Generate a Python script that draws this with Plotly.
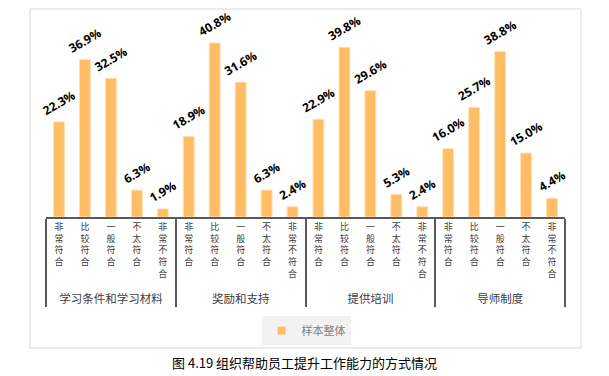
import plotly.graph_objects as go

groups = ["学习条件和学习材料", "奖励和支持", "提供培训", "导师制度"]
levels = ["非常符合", "比较符合", "一般符合", "不太符合", "非常不符合"]
values = [
    [22.3, 36.9, 32.5, 6.3, 1.9],
    [18.9, 40.8, 31.6, 6.3, 2.4],
    [22.9, 39.8, 29.6, 5.3, 2.4],
    [16.0, 25.7, 38.8, 15.0, 4.4],
]
series_name = "样本整体"
caption = "图 4.19 组织帮助员工提升工作能力的方式情况"

W, H = 609, 376
OFF = 8  # page body margin
L, R, T, B = 46 - OFF, 565 - OFF, 25 - OFF, 217 - OFF

def px(x):
    return (x - OFF - L) / (R - L)

def py(y):
    return (B - (y - OFF)) / (B - T)

xg, xs, ys, txt = [], [], [], []
for g, vals in zip(groups, values):
    for lv, v in zip(levels, vals):
        xg.append('<span style="font-size:11.5px"><br>' + g + '</span>')
        xs.append("<br>".join(list(lv)))
        ys.append(v)
        txt.append(f"{v:.1f}%")

bar_color = "#FFBE66"

fig = go.Figure()
fig.add_trace(go.Bar(
    x=[xg, xs], y=ys, name=series_name,
    marker=dict(color=bar_color, line=dict(color="#FFE1B5", width=1)),
    width=0.42,
    text=txt, textposition="outside", textangle=-30, constraintext="none",
    textfont=dict(family="Open Sans", size=12, color="#000000", weight="bold"),
    cliponaxis=False, showlegend=False,
))
# legend entry
fig.add_trace(go.Scatter(
    x=[xg[:1], xs[:1]], y=[None], mode="markers", name=series_name,
    marker=dict(symbol="square", size=8, color=bar_color), showlegend=True,
))

fig.update_layout(
    width=W, height=H,
    margin=dict(l=L, r=W - R, t=T, b=H - B, autoexpand=False),
    paper_bgcolor="white", plot_bgcolor="white",
    font=dict(family="Noto Sans CJK SC", color="#404040"),
    showlegend=True,
    legend=dict(orientation="h", x=px(306), xanchor="center", y=py(316), yanchor="top",
                bgcolor="#F2F2F2", font=dict(size=11, color="#7F7F7F"),
                itemwidth=30, tracegroupgap=0),
    xaxis=dict(type="multicategory", showline=True, linecolor="#595959", linewidth=2,
               showgrid=False, ticks="", tickfont=dict(size=9, color="#404040"),
               showdividers=True, dividercolor="#595959", dividerwidth=2,
               automargin=False, range=[-0.5, len(ys) - 0.5]),
    yaxis=dict(range=[0, 45], visible=False, showgrid=False, automargin=False),
    shapes=[dict(type="rect", xref="paper", yref="paper",
                 x0=px(30), x1=px(581), y0=py(348), y1=py(9),
                 line=dict(color="#D9D9D9", width=1), layer="below")],
    annotations=[dict(text=caption, xref="paper", yref="paper", x=px(304), y=py(362),
                      xanchor="center", yanchor="middle", showarrow=False,
                      font=dict(family="Noto Sans CJK SC", size=13, color="#000000"))],
)

fig.write_html("out.html")
